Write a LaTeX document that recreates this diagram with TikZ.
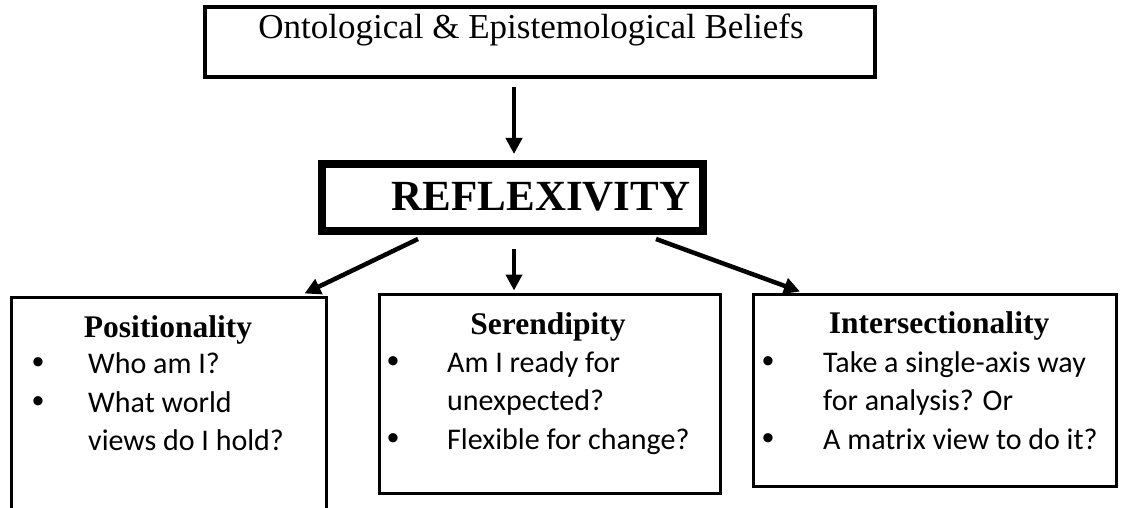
\documentclass[tikz,border=0pt]{standalone}
\usepackage{fontspec}
\setmainfont{Liberation Serif}
\newfontfamily\calib{Carlito}
\newfontfamily\bulfont{Liberation Sans}
\usetikzlibrary{arrows.meta,calc}
\begin{document}
\begin{tikzpicture}[x=1pt,y=-1pt,
  box/.style={draw,line width=3pt,rectangle,inner sep=0pt,outer sep=0pt,anchor=north west},
  arr/.style={line width=4.5pt,-{Triangle[length=16pt,width=16pt]}},
  head/.style={font=\fontsize{31.5}{36}\selectfont\bfseries,anchor=base,inner sep=0pt},
  item/.style={font=\calib\fontsize{30}{38.5}\selectfont,anchor=base west,inner sep=0pt,align=left},
  bul/.style={font=\bulfont\fontsize{34}{36}\selectfont,anchor=base,inner sep=0pt}]
\useasboundingbox[fill=white] (0,0) rectangle (1127,508);

% top box
\node[box,line width=4pt,minimum width=670pt,minimum height=70pt] (top) at (205,7) {};
\node[font=\fontsize{35}{40}\selectfont,anchor=base,inner sep=0pt] (toptxt) at (531,39) {Ontological \& Epistemological Beliefs};
% reflexivity
\node[box,line width=8pt,minimum width=381pt,minimum height=67pt] (refl) at (322,164) {};
\node[font=\fontsize{43}{48}\selectfont\bfseries,inner sep=0pt] (refltxt) at (541,197) {REFLEXIVITY};

% bottom boxes
\node[box,minimum width=315pt,minimum height=240pt] (pos) at (11.5,297.5) {};
\node[box,minimum width=341pt,minimum height=199pt] (ser) at (379.5,294.5) {};
\node[box,minimum width=363pt,minimum height=192pt] (int) at (753.5,294.5) {};

% headings
\node[head] (posh) at (168,337) {Positionality};
\node[head] (serh) at (548,334) {Serendipity};
\node[head] (inth) at (939,333) {Intersectionality};

% positionality (multi-line items anchored at last baseline)
\node[bul] (pb1) at (38,373) {•};
\node[item] (pi1) at (88,373) {Who am I?};
\node[bul] (pb2) at (38,412) {•};
\node[item] (pi2) at (88,450.5) {What world\\views do I hold?};

% serendipity
\node[bul] (sb1) at (393,372) {•};
\node[item] (si1) at (447,410.5) {Am I ready for\\unexpected?};
\node[bul] (sb2) at (393,449) {•};
\node[item] (si2) at (447,449) {Flexible for change?};

% intersectionality
\node[bul] (ib1) at (768,372) {•};
\node[item] (ii1) at (823,410.5) {Take a single-axis way\\for analysis? Or};
\node[bul] (ib2) at (768,449) {•};
\node[item] (ii2) at (823,449) {A matrix view to do it?};

% arrows
\draw[arr] ($(top.south)+(-26,10)$) -- ($(refl.north)+(1.5,-10)$);
\draw[arr] ($(refl.south)+(-94.5,8)$) -- ($(pos.north east)+(-22,-4)$);
\draw[arr] ($(refl.south)+(1.5,18)$) -- ($(ser.north)+(-36,-4)$);
\draw[arr] ($(refl.south)+(143.5,8)$) -- ($(int.north west)+(46.5,-3)$);
\end{tikzpicture}
\end{document}
